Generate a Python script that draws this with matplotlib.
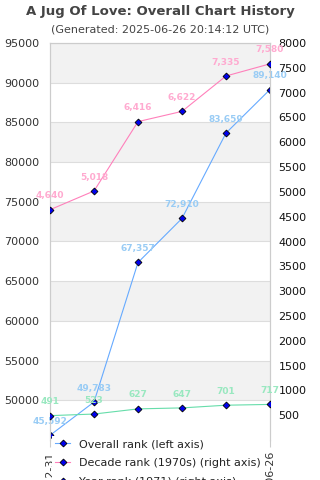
import matplotlib
matplotlib.use("Agg")
import matplotlib.pyplot as plt
from matplotlib.lines import Line2D

dates = ["1971-12-31", "1972-12-31", "1973-12-31", "1974-12-31", "1975-12-31", "2025-06-26"]
overall_rank = [45592, 49783, 67357, 72910, 83659, 89140]
decade_rank = [4640, 5018, 6416, 6622, 7335, 7580]
year_rank = [491, 523, 627, 647, 701, 717]

left_ticks = [50000, 55000, 60000, 65000, 70000, 75000, 80000, 85000, 90000, 95000]
right_ticks = [500, 1000, 1500, 2000, 2500, 3000, 3500, 4000, 4500, 5000, 5500, 6000, 6500, 7000, 7500, 8000]

c_overall, t_overall = "#66aaff", "#99ccf5"
c_decade, t_decade = "#ff80bb", "#ffaad0"
c_year, t_year = "#66ddaa", "#99e8c0"

fig = plt.figure(figsize=(3.2, 4.8), dpi=100)
ax = fig.add_axes([50/320, 1-440/480, 220/320, 397/480])
ax2 = ax.twinx()

x = list(range(len(dates)))
ax.set_xlim(0, len(dates)-1)
ax.set_ylim(45000, 95000)
ax2.set_ylim(0, 8000)

# bands
for lo in range(45000, 95000, 5000):
    if (lo // 5000) % 2 == 0:
        ax.axhspan(lo, lo+5000, color="#f2f2f2", zorder=0, lw=0)
for t in left_ticks:
    ax.axhline(t, color="#dddddd", lw=0.8, zorder=0.5)

mk = dict(marker="D", markersize=3.5, markerfacecolor="#0000ee", markeredgecolor="black", markeredgewidth=0.6)
ax.plot(x, overall_rank, color=c_overall, lw=0.8, zorder=3, **mk)
ax2.plot(x, decade_rank, color=c_decade, lw=0.8, zorder=3, **mk)
ax2.plot(x, year_rank, color=c_year, lw=0.8, zorder=3, **mk)

for xi, v in zip(x, overall_rank):
    ax.annotate(f"{v:,}", (xi, v), xytext=(0, 10), textcoords="offset points",
                ha="center", va="center", fontsize=6.5, fontweight="bold", color=t_overall, zorder=4)
for xi, v in zip(x, decade_rank):
    ax2.annotate(f"{v:,}", (xi, v), xytext=(0, 10), textcoords="offset points",
                 ha="center", va="center", fontsize=6.5, fontweight="bold", color=t_decade, zorder=4)
for xi, v in zip(x, year_rank):
    ax2.annotate(f"{v:,}", (xi, v), xytext=(0, 10), textcoords="offset points",
                 ha="center", va="center", fontsize=6.5, fontweight="bold", color=t_year, zorder=4)

ax.set_yticks(left_ticks)
ax.set_yticklabels([str(t) for t in left_ticks])
ax2.set_yticks(right_ticks)
ax2.set_yticklabels([str(t) for t in right_ticks])
ax.set_xticks(x)
ax.set_xticklabels(dates, rotation=90)

ax.tick_params(axis="y", length=0, pad=8, labelsize=8, labelcolor="#333333")
ax2.tick_params(axis="y", length=0, pad=6, labelsize=8, labelcolor="#111111")
ax.tick_params(axis="x", length=5, color="#cccccc", pad=3, labelsize=8, labelcolor="#333333")

for a in (ax, ax2):
    for s in a.spines.values():
        s.set_color("#cccccc")
        s.set_linewidth(0.8)
    a.spines["bottom"].set_visible(False)

ax2.patch.set_visible(False)
ax2.set_zorder(1)
ax.set_zorder(0)

fig.text(0.5, 1-11/480, "A Jug Of Love: Overall Chart History", ha="center", va="center",
         fontsize=9.5, fontweight="bold", color="#444444")
fig.text(0.5, 1-30/480, "(Generated: 2025-06-26 20:14:12 UTC)", ha="center", va="center",
         fontsize=8, color="#444444")

handles = [
    Line2D([], [], color=c_overall, lw=0.8, **mk),
    Line2D([], [], color=c_decade, lw=0.8, **mk),
    Line2D([], [], color=c_year, lw=0.8, **mk),
]
labels = ["Overall rank (left axis)", "Decade rank (1970s) (right axis)", "Year rank (1971) (right axis)"]
leg = fig.legend(handles, labels, loc="upper left", bbox_to_anchor=(52/320, 1-436/480),
                 fontsize=8, frameon=True, facecolor="white", edgecolor="none", framealpha=1,
                 handlelength=1.3, handletextpad=0.8, labelspacing=0.8, borderpad=0.3,
                 borderaxespad=0, fancybox=False)
for t in leg.get_texts():
    t.set_color("#222222")

fig.savefig("out.png", dpi=100)
